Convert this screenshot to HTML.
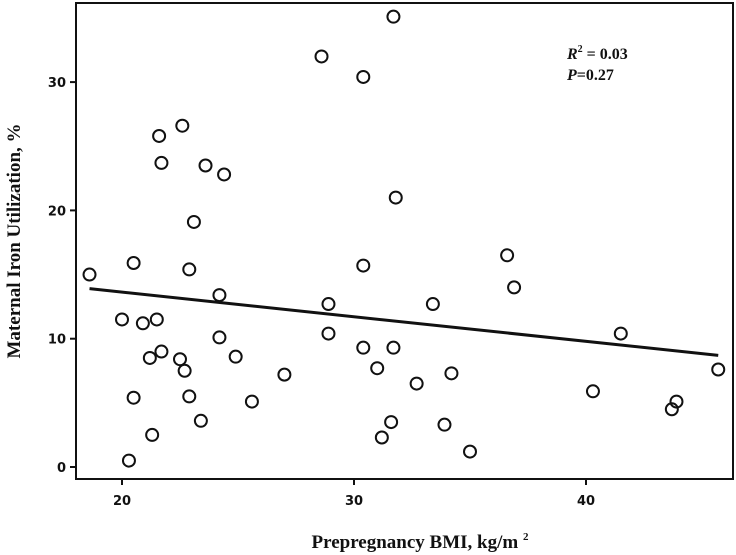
<!DOCTYPE html>
<html><head><meta charset="utf-8"><style>
body{margin:0;background:#fff;}
svg{display:block;}
.tick{font-family:"DejaVu Sans","Liberation Sans",sans-serif;font-size:13px;font-weight:bold;fill:#111;}
.title{font-family:"Liberation Serif",serif;font-size:19px;font-weight:bold;fill:#111;}
.stat{font-family:"Liberation Serif",serif;font-size:16px;font-weight:bold;fill:#111;}
</style></head><body>
<svg id="chart" width="736" height="555">
<rect x="76" y="3" width="657" height="476" fill="none" stroke="#111" stroke-width="2"/>
<g id="xt"></g><g id="yt"></g><g id="pts"></g>
<text class="title" x="420" y="548" text-anchor="middle">Prepregnancy BMI, kg/m <tspan font-size="11" dy="-8">2</tspan></text>
<text class="title" transform="translate(20,241) rotate(-90)" text-anchor="middle">Maternal Iron Utilization, %</text>
<text class="stat" x="567" y="59"><tspan font-style="italic">R</tspan><tspan font-size="10" dy="-7">2</tspan><tspan dy="7"> = 0.03</tspan></text>
<text class="stat" x="567" y="80"><tspan font-style="italic">P</tspan>=0.27</text>
</svg>
<script>
const xTicks=[20,30,40];
const yTicks=[0,10,20,30];
const bmi=[18.6,31.7,28.6,30.4,31.8,22.6,21.6,21.7,23.6,24.4,23.1,20.5,22.9,24.2,28.9,20.0,20.9,21.5,24.2,28.9,21.2,21.7,22.5,22.7,20.5,22.9,23.4,21.3,20.3,24.9,25.6,27.0,30.4,30.4,31.7,31.0,31.6,31.2,32.7,36.6,36.9,33.4,34.2,33.9,35.0,40.3,41.5,43.9,43.7,45.7];
const iron=[15.0,35.1,32.0,30.4,21.0,26.6,25.8,23.7,23.5,22.8,19.1,15.9,15.4,13.4,12.7,11.5,11.2,11.5,10.1,10.4,8.5,9.0,8.4,7.5,5.4,5.5,3.6,2.5,0.5,8.6,5.1,7.2,15.7,9.3,9.3,7.7,3.5,2.3,6.5,16.5,14.0,12.7,7.3,3.3,1.2,5.9,10.4,5.1,4.5,7.6];
const fitX=[18.6,45.7];
const fitY=[13.9,8.7];
const X=v=>122+(v-20)*23.2;
const Y=v=>467-v*12.83;
const NS="http://www.w3.org/2000/svg";
function mk(t,a,p){const e=document.createElementNS(NS,t);for(const k in a)e.setAttribute(k,a[k]);p.appendChild(e);return e;}
const xt=document.getElementById('xt'),yt=document.getElementById('yt'),pts=document.getElementById('pts');
xTicks.forEach(v=>{
 const l=mk('line',{x1:X(v),x2:X(v),y1:479,y2:485,stroke:'#111','stroke-width':2},xt);
 
 
 const t=mk('text',{x:X(v),y:505,'text-anchor':'middle',class:'tick'},xt);t.textContent=v;
 
 
});
yTicks.forEach(v=>{
 const l=mk('line',{x1:70,x2:76,y1:Y(v),y2:Y(v),stroke:'#111','stroke-width':2},yt);
 
 
 const t=mk('text',{x:66,y:Y(v)+5,'text-anchor':'end',class:'tick'},yt);t.textContent=v;
 
 
});
bmi.forEach((b,i)=>{
 const c=mk('circle',{cx:X(b),cy:Y(iron[i]),r:6,fill:'none',stroke:'#111','stroke-width':2},pts);
 
 
});
const fl=mk('line',{x1:X(fitX[0]),y1:Y(fitY[0]),x2:X(fitX[1]),y2:Y(fitY[1]),stroke:'#111','stroke-width':3},pts);


</script>
</body></html>
